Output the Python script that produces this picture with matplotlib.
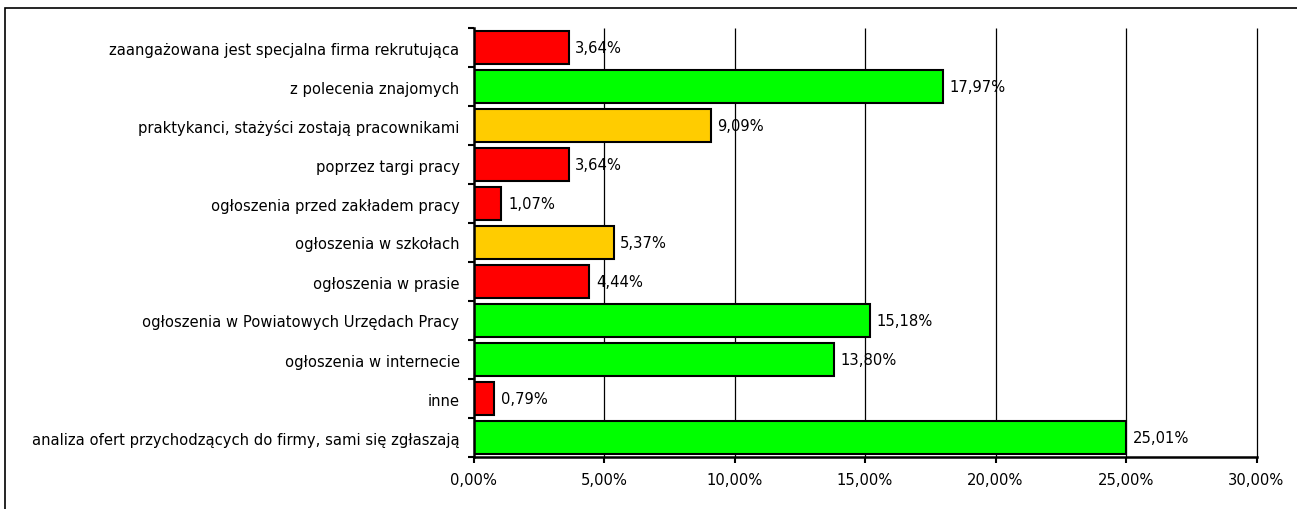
import matplotlib
matplotlib.use("Agg")
import matplotlib.pyplot as plt
from matplotlib.patches import Rectangle
from matplotlib.ticker import FixedLocator, FuncFormatter

categories = [
    "zaangażowana jest specjalna firma rekrutująca",
    "z polecenia znajomych",
    "praktykanci, stażyści zostają pracownikami",
    "poprzez targi pracy",
    "ogłoszenia przed zakładem pracy",
    "ogłoszenia w szkołach",
    "ogłoszenia w prasie",
    "ogłoszenia w Powiatowych Urzędach Pracy",
    "ogłoszenia w internecie",
    "inne",
    "analiza ofert przychodzących do firmy, sami się zgłaszają",
]
values = [3.64, 17.97, 9.09, 3.64, 1.07, 5.37, 4.44, 15.18, 13.80, 0.79, 25.01]
colors = ["#FF0000", "#00FF00", "#FFCC00", "#FF0000", "#FF0000", "#FFCC00",
          "#FF0000", "#00FF00", "#00FF00", "#FF0000", "#00FF00"]
xticks = [0, 5, 10, 15, 20, 25, 30]

FS = 10.6
plt.rcParams['font.family'] = ['DejaVu Sans']
fig = plt.figure(figsize=(12.97, 5.10), dpi=100)
W, H = 1297, 510
ax = fig.add_axes([473.5 / W, 1 - 458 / H, (1256.5 - 473.5) / W, (458 - 29) / H])

n = len(categories)
ypos = list(range(n))[::-1]
ax.barh(ypos, values, height=0.83, color=colors, edgecolor="black", linewidth=1.5, zorder=3)
for y, v in zip(ypos, values):
    ax.text(v + 0.25, y, f"{v:.2f}%".replace(".", ","), va="center", ha="left",
            fontsize=FS, zorder=4)

ax.set_xlim(0, 30)
ax.set_ylim(-0.5, n - 0.5)
ax.set_xticks(xticks)
ax.xaxis.set_major_formatter(FuncFormatter(lambda x, p: f"{x:.2f}%".replace(".", ",")))
ax.set_yticks(ypos)
ax.set_yticklabels(categories, fontsize=FS)
ax.yaxis.set_minor_locator(FixedLocator([i - 0.5 for i in range(n + 1)]))
ax.tick_params(axis="y", which="major", length=0, pad=10)
ax.tick_params(axis="y", which="minor", length=4, width=1.5, direction="out")
ax.tick_params(axis="x", which="major", length=4, width=1.5, direction="out", labelsize=FS, pad=7)
ax.vlines(xticks[1:], -0.5, n - 0.5, color="black", linewidth=0.9, zorder=0, clip_on=False)
for s in ["top", "right"]:
    ax.spines[s].set_visible(False)
for s in ["left", "bottom"]:
    ax.spines[s].set_linewidth(1.8)
    ax.spines[s].set_zorder(5)

fig.patches.append(Rectangle((5 / W, -0.1), 1.2, (1 - 9 / H) + 0.1, transform=fig.transFigure,
                             fill=False, edgecolor="black", linewidth=1.2))

fig.savefig("out.png", dpi=100)
